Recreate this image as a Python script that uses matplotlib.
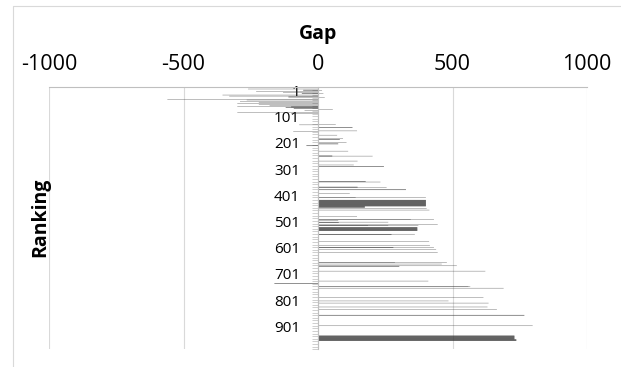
import numpy as np
import matplotlib.pyplot as plt
from matplotlib.lines import Line2D
from matplotlib.transforms import ScaledTranslation

plt.rcParams['font.family'] = ['Open Sans', 'DejaVu Sans']
plt.rcParams['axes.unicode_minus'] = False

# ranking positions that carry a visible bar, and their gap value
n_ranks = 1000
ranking = [1, 7, 11, 12, 13, 16, 20, 23, 24, 25, 30, 34, 37, 38, 40, 46, 49, 54, 58, 62,
           65, 69, 74, 75, 76, 77, 78, 80, 81, 85, 89, 96, 100,
           142, 144, 153, 154, 167, 170, 183, 195, 199, 200, 212, 216, 217, 223, 224, 244,
           262, 263, 264, 282, 297, 303, 304, 360, 361, 362, 381, 382, 383, 391, 392, 405,
           421, 422,
           431, 432, 433, 434, 435, 436, 437, 438, 439, 440, 441, 442, 443, 444, 445, 446,
           447, 448, 449, 450, 451, 452, 453, 454, 455, 456, 457, 458, 459,
           462, 469, 494, 504, 505, 510, 515, 516, 517, 523, 527, 528, 529,
           535, 536, 537, 538, 539, 540, 541, 542, 543, 544, 545, 546, 547, 548,
           561, 562, 563, 590, 603, 611, 612, 613, 620, 630, 668, 669, 675, 682, 683, 684,
           702, 740, 749, 750, 761, 762, 767, 803, 816, 824, 839, 848, 870, 871, 911,
           949, 950, 951, 952, 953, 954, 955, 956, 957, 958, 959, 960, 961, 962,
           963, 964, 965, 966, 967, 968]
gap = [-390, -260, -55, -55, 15, -230, -130, -60, -60, 20, -355, -330, -110, -110, 25, -560,
       -265, -290, -220, -300, -220, -180, -300, -100, -100, -120, -120, -90, -90, 55, -50,
       -300, -100,
       66, -70, 128, 128, 145, -92, 71, 93, 81, 81, 106, 75, 75, -43, -43, 112,
       53, 203, 53, 147, 133, 245, 245, 177, 177, 232, 147, 147, 255, 327, 327, 118,
       140, 401,
       401, 401, 401, 401, 401, 401, 401, 401, 401, 401, 401, 401, 401, 401, 401, 401,
       401, 401, 401, 401, 401, 401, 401, 401, 174, 174, 174, 174, 174,
       404, 414, 145, 431, 345, 75, 261, 77, 77, 445, 186, 261, 373,
       369, 369, 369, 369, 369, 369, 369, 369, 369, 369, 369, 369, 369, 369,
       360, 273, 273, 413, 416, 280, 280, 431, 439, 445, 479, 286, 460, 516, 302, 302,
       622, 410, -162, -162, 559, 566, 690, 615, 485, 634, 630, 665, 767, 767, 798,
       730, 730, 730, 730, 730, 730, 730, 730, 730, 730, 730, 730, 730, 730,
       737, 737, 737, 737, 737, 737]
rank_labels = [1, 101, 201, 301, 401, 501, 601, 701, 801, 901]
gap_ticks = [-1000, -500, 0, 500, 1000]

fig = plt.figure(figsize=(6.21, 3.67), dpi=100)
ax = fig.add_axes([49 / 621, 1 - 349.3 / 367, 538 / 621, 262 / 367])

# bars are thinner than a pixel, so turn snapping off and let antialiasing shade them
bars = ax.barh(ranking, gap, height=1.2, color='#333333', linewidth=0, zorder=2)
for b in bars:
    b.set_snap(False)
ax.set_xlim(-1000, 1000)
ax.set_ylim(n_ranks + 0.5, 0.5)

# horizontal axis on top
ax.xaxis.tick_top()
ax.xaxis.set_label_position('top')
ax.set_xticks(gap_ticks)
ax.tick_params(axis='x', length=0, pad=9, labelsize=15.5)
ax.set_xlabel('Gap', fontsize=14, fontweight='bold', labelpad=11)
ax.grid(axis='x', color='#d9d9d9', linewidth=0.8)
ax.set_axisbelow(True)

# vertical axis through zero
ax.spines['left'].set_position(('data', 0))
ax.spines['left'].set_color('#bfbfbf')
ax.spines['top'].set_color('#bfbfbf')
ax.spines['right'].set_visible(False)
ax.spines['bottom'].set_visible(False)
ax.set_yticks(rank_labels)
ax.set_yticks(np.arange(0.5, n_ranks + 1, 10), minor=True)
ax.tick_params(axis='y', which='major', length=0, pad=13, labelsize=11)
ax.tick_params(axis='y', which='minor', length=4.3, width=0.6, color='#c8c8c8')
for lab in ax.get_yticklabels():
    lab.set_transform(lab.get_transform() + ScaledTranslation(0, -3 / 100, fig.dpi_scale_trans))

fig.text(40 / 621, 1 - 217.5 / 367, 'Ranking', rotation=90, ha='center', va='center',
         fontsize=14, fontweight='bold')

# chart area border
fig.add_artist(Line2D([12.5 / 621, 12.5 / 621, 1], [0, 1 - 5.5 / 367, 1 - 5.5 / 367],
                      transform=fig.transFigure, color='#d9d9d9', linewidth=0.8))

fig.savefig('out.png', dpi=100)
